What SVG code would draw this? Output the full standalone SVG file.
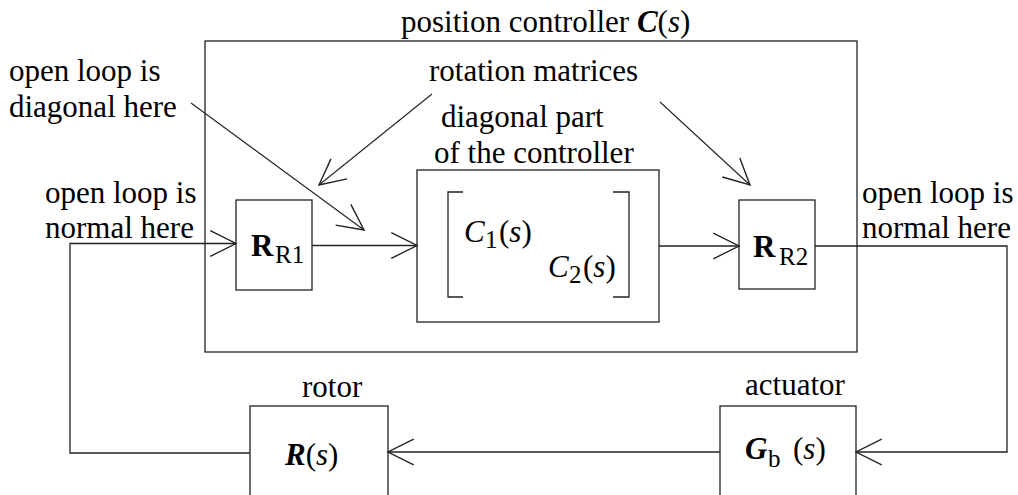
<svg xmlns="http://www.w3.org/2000/svg" width="1018" height="495" viewBox="0 0 1018 495" font-family="'Liberation Serif', 'Times New Roman', Times, serif">
  <style>
    text { font-size: 31px; fill: #000; }
    .sub { font-size: 25px; }
    .bi { font-weight: bold; font-style: italic; }
    .it { font-style: italic; }
    .b { font-weight: bold; }
    .box { fill: none; stroke: #222; stroke-width: 1.3; }
    .wire { fill: none; stroke: #222; stroke-width: 1.3; }
    .lead { fill: none; stroke: #222; stroke-width: 1.1; }
  </style>
  <defs>
    <marker id="open" markerUnits="userSpaceOnUse" markerWidth="30" markerHeight="30" viewBox="-26 -14 28 28" refX="0" refY="0" orient="auto">
      <path d="M-24,-12 L0,0 L-24,12" fill="none" stroke="#222" stroke-width="1.3"/>
    </marker>
  </defs>

  <rect width="1018" height="495" fill="#fff"/>

  <!-- position controller frame -->
  <g id="controller">
    <rect class="box" x="205" y="41" width="652" height="311"/>
    <text x="401" y="32">position controller <tspan class="bi">C</tspan>(<tspan class="it">s</tspan>)</text>
  </g>

  <!-- input rotation block -->
  <g id="rotR1">
    <rect class="box" x="236" y="200" width="76" height="90"/>
    <text x="251" y="256" class="b">R</text>
    <text x="275" y="263" class="sub">R1</text>
  </g>

  <!-- diagonal controller block -->
  <g id="diag">
    <rect class="box" x="417" y="170" width="242" height="152"/>
    <path class="wire" d="M463,192 H448 V297 H463"/>
    <path class="wire" d="M613,192 H629 V297 H613"/>
    <text x="464" y="242"><tspan class="it">C</tspan></text>
    <text x="485" y="248" class="sub">1</text>
    <text x="499" y="242">(<tspan class="it">s</tspan>)</text>
    <text x="548" y="277"><tspan class="it">C</tspan></text>
    <text x="569" y="283" class="sub">2</text>
    <text x="583" y="277">(<tspan class="it">s</tspan>)</text>
    <text x="441" y="127">diagonal part</text>
    <text x="434" y="163">of the controller</text>
  </g>

  <!-- output rotation block -->
  <g id="rotR2">
    <rect class="box" x="739" y="200" width="76" height="89"/>
    <text x="753" y="257" class="b">R</text>
    <text x="779" y="265" class="sub">R2</text>
  </g>

  <!-- rotor -->
  <g id="rotor">
    <rect class="box" x="250" y="406" width="138" height="110"/>
    <text x="302" y="397">rotor</text>
    <text x="285" y="465"><tspan class="bi">R</tspan>(<tspan class="it">s</tspan>)</text>
  </g>

  <!-- actuator -->
  <g id="actuator">
    <rect class="box" x="720" y="406" width="136" height="110"/>
    <text x="745" y="395">actuator</text>
    <text x="745" y="459" class="bi">G</text>
    <text x="768" y="467" class="sub">b</text>
    <text x="793" y="459">(<tspan class="it">s</tspan>)</text>
  </g>

  <!-- annotations -->
  <g id="notes">
    <text x="9" y="81">open loop is</text>
    <text x="9" y="117">diagonal here</text>
    <text x="429" y="81">rotation matrices</text>
    <text x="45" y="203">open loop is</text>
    <text x="45" y="238">normal here</text>
    <text x="862" y="203">open loop is</text>
    <text x="862" y="238">normal here</text>
  </g>

  <!-- signal paths and pointers -->
  <g id="connectors">
    <path class="wire" d="M250,453 H70 V243.5 H236" marker-end="url(#open)"/>
    <path class="wire" d="M312,245.5 H417" marker-end="url(#open)"/>
    <path class="wire" d="M659,246 H739" marker-end="url(#open)"/>
    <path class="wire" d="M815,246 H1007 V452 H856" marker-end="url(#open)"/>
    <path class="wire" d="M720,452 H388" marker-end="url(#open)"/>
    <path class="lead" d="M191,103 L364,230" marker-end="url(#open)"/>
    <path class="lead" d="M432,94 L319,185" marker-end="url(#open)"/>
    <path class="lead" d="M660,102 L750,185" marker-end="url(#open)"/>
  </g>
</svg>
